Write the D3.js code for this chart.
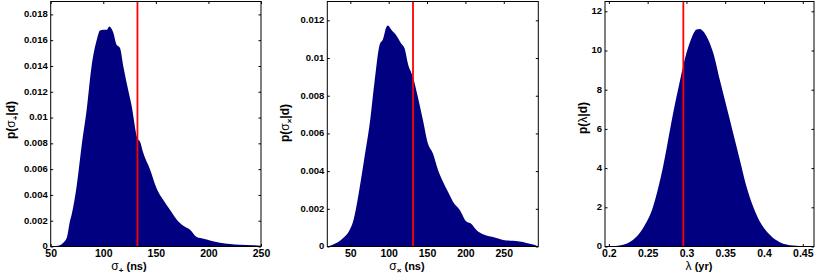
<!DOCTYPE html>
<html><head><meta charset="utf-8">
<script src="https://cdn.jsdelivr.net/npm/d3@7"></script>
<style>
body{margin:0;background:#fff;}
svg{display:block;font-family:"Liberation Sans",Arial,Helvetica,sans-serif;}
</style></head>
<body><svg id="c" width="817" height="280"></svg>
<script>
// ---- data ----
const sigPlusX = [51,55,58.8,62,65.2,68.4,70,74.7,79.4,84.2,88.9,93.7,96.9,100.1,103.3,105.7,109.5,112.7,115.9,119,122.2,127,132.4,134.9,138.1,144.4,150.8,157.1,163.4,169.8,176.1,182.5,188.9,195.2,201.5,211,220.5,230,242.6,250];
const sigPlusY = [0,0.00003,0.0001,0.0003,0.00065,0.002,0.0025,0.0047,0.0078,0.0106,0.014,0.016,0.01676,0.0168,0.0168,0.01707,0.0166,0.01565,0.0154,0.014,0.0127,0.0109,0.0084,0.00815,0.00725,0.006,0.0045,0.0036,0.00285,0.0021,0.0016,0.0013,0.00073,0.0006,0.00047,0.0003,0.0002,0.00013,0.0001,0.00005];

const sigCrossX = [20.8,31.7,40.3,49.1,53.4,57.8,62.1,68.7,75.2,81.7,88.2,92.5,96.9,99,103.5,110,116.5,120.8,125.1,131.6,138.2,144.7,151.2,157.7,164.3,170.8,177.3,183.8,192.6,201.3,207.8,214.3,223,236,249,262,275,283.9,292.6];
const sigCrossY = [0,0.00018,0.00044,0.00088,0.0013,0.0021,0.0031,0.0048,0.0065,0.0088,0.0107,0.011,0.01164,0.01173,0.0115,0.0112,0.01076,0.0105,0.0097,0.009,0.0079,0.0067,0.00547,0.00494,0.00406,0.00344,0.0029,0.00238,0.00194,0.00132,0.0012,0.00088,0.00065,0.0005,0.00035,0.0003,0.00024,0.00014,0.00005];

const lambdaX = [0.199,0.2184,0.2313,0.2442,0.2571,0.27,0.2829,0.2915,0.3001,0.3066,0.313,0.3173,0.3216,0.328,0.3345,0.343,0.3516,0.3602,0.3688,0.3774,0.386,0.3946,0.4075,0.4204,0.4376,0.4548,0.464];
const lambdaY = [0,0.09,0.34,0.94,2.04,4.09,6.81,8.43,9.88,10.64,11.07,11.1,10.98,10.56,9.88,8.51,7.15,5.79,4.43,3.06,2.04,1.28,0.6,0.22,0.05,0.01,0];

const trueValues = [132.5, 131.7, 0.296];

const xTicks1 = [50,100,150,200,250];
const xTickLabels1 = ["50","100","150","200","250"];
const yTicks1 = [0,0.002,0.004,0.006,0.008,0.01,0.012,0.014,0.016,0.018];
const yTickLabels1 = ["0","0.002","0.004","0.006","0.008","0.01","0.012","0.014","0.016","0.018"];

const xTicks2 = [50,100,150,200,250];
const xTickLabels2 = ["50","100","150","200","250"];
const yTicks2 = [0,0.002,0.004,0.006,0.008,0.01,0.012];
const yTickLabels2 = ["0","0.002","0.004","0.006","0.008","0.01","0.012"];

const xTicks3 = [0.2,0.25,0.3,0.35,0.4,0.45];
const xTickLabels3 = ["0.2","0.25","0.3","0.35","0.4","0.45"];
const yTicks3 = [0,2,4,6,8,10,12];
const yTickLabels3 = ["0","2","4","6","8","10","12"];

// ---- layout ----
const panels = [
  {xs:sigPlusX, ys:sigPlusY, xd:[50,250], yd:[0,0.019], l:50.7, r:261, xt:xTicks1, xtl:xTickLabels1, yt:yTicks1, ytl:yTickLabels1,
   truth:trueValues[0], ylab:{x:14.5,y:120,sym:"σ",sub:"+"}, xlab:{x:129,sym:"σ",sub:"+",rest:" (ns)"}},
  {xs:sigCrossX, ys:sigCrossY, xd:[20,295], yd:[0,0.013], l:327.3, r:538.3, xt:xTicks2, xtl:xTickLabels2, yt:yTicks2, ytl:yTickLabels2,
   truth:trueValues[1], ylab:{x:288.5,y:123,sym:"σ",sub:"×"}, xlab:{x:407,sym:"σ",sub:"×",rest:" (ns)"}},
  {xs:lambdaX, ys:lambdaY, xd:[0.195,0.4645], yd:[0,12.5], l:605, r:814, xt:xTicks3, xtl:xTickLabels3, yt:yTicks3, ytl:yTickLabels3,
   truth:trueValues[2], ylab:{x:586.5,y:118,sym:"λ",sub:""}, xlab:{x:699,sym:"λ",sub:"",rest:" (yr)"}}
];
const plotTop = 1.5, plotBottom = 246.5;

const svg = d3.select("#c");
svg.append("rect").attr("width",817).attr("height",280).attr("fill","#fff");

panels.forEach((p,i)=>{
  const x = d3.scaleLinear().domain(p.xd).range([p.l,p.r]);
  const y = d3.scaleLinear().domain(p.yd).range([plotBottom,plotTop]);
  const g = svg.append("g");
  const cid = "clip"+i;
  svg.append("clipPath").attr("id",cid).append("rect")
    .attr("x",p.l).attr("y",plotTop).attr("width",p.r-p.l).attr("height",plotBottom-plotTop);
  const data = p.xs.map((v,k)=>[v,p.ys[k]]);
  const area = d3.area().curve(d3.curveMonotoneX).x(d=>x(d[0])).y0(y(0)).y1(d=>y(d[1]));
  g.append("path").datum(data).attr("d",area).attr("fill","#000080").attr("stroke","none")
    .attr("clip-path","url(#"+cid+")");
  g.append("line").attr("x1",x(p.truth)).attr("x2",x(p.truth)).attr("y1",plotTop).attr("y2",plotBottom)
    .attr("stroke","#ff0000").attr("stroke-width",1.8);

  const fmtX = d=>p.xtl[p.xt.indexOf(d)];
  const fmtY = d=>p.ytl[p.yt.indexOf(d)];
  const ax = g.append("g").attr("transform",`translate(0,${plotBottom})`)
    .call(d3.axisBottom(x).tickValues(p.xt).tickFormat(fmtX).tickSize(-2.5).tickSizeOuter(0).tickPadding(3.5));
  const ay = g.append("g").attr("transform",`translate(${p.l},0)`)
    .call(d3.axisLeft(y).tickValues(p.yt).tickFormat(fmtY).tickSize(-2.5).tickSizeOuter(0).tickPadding(3));
  const at = g.append("g").attr("transform",`translate(0,${plotTop})`)
    .call(d3.axisTop(x).tickValues(p.xt).tickFormat("").tickSize(-2.5).tickSizeOuter(0));
  const ar = g.append("g").attr("transform",`translate(${p.r},0)`)
    .call(d3.axisRight(y).tickValues(p.yt).tickFormat("").tickSize(-2.5).tickSizeOuter(0));
  [ax,ay,at,ar].forEach(a=>{a.select(".domain").remove(); a.selectAll("line").attr("stroke","#000");});
  ax.selectAll("text").attr("font-size",10.5).attr("font-weight","bold").attr("fill","#000").attr("font-family","Liberation Sans, Arial, sans-serif");
  ay.selectAll("text").attr("font-size",9.5).attr("font-weight","bold").attr("fill","#000").attr("font-family","Liberation Sans, Arial, sans-serif");
  ay.selectAll("text").attr("dy","0.25em");

  g.append("rect").attr("x",p.l).attr("y",plotTop).attr("width",p.r-p.l).attr("height",plotBottom-plotTop)
    .attr("fill","none").attr("stroke","#000").attr("stroke-width",1);

  const yl = g.append("text").attr("transform",`translate(${p.ylab.x},${p.ylab.y}) rotate(-90)`)
    .attr("text-anchor","middle").attr("font-size",12).attr("font-weight","bold").attr("fill","#000");
  yl.append("tspan").text("p(");
  yl.append("tspan").attr("font-weight","normal").text(p.ylab.sym);
  if(p.ylab.sub){ yl.append("tspan").attr("font-size",8).attr("dy",3).text(p.ylab.sub);
    yl.append("tspan").attr("dy",-3).text("|d)"); }
  else yl.append("tspan").text("|d)");

  const xl = g.append("text").attr("x",p.xlab.x).attr("y",270).attr("text-anchor","middle")
    .attr("font-size",11).attr("font-weight","bold").attr("fill","#000");
  xl.append("tspan").attr("font-weight","normal").attr("font-size",12).text(p.xlab.sym);
  if(p.xlab.sub){ xl.append("tspan").attr("font-size",8).attr("dy",3).text(p.xlab.sub);
    xl.append("tspan").attr("dy",-3).text(p.xlab.rest); }
  else xl.append("tspan").text(p.xlab.rest);
});
</script></body></html>
